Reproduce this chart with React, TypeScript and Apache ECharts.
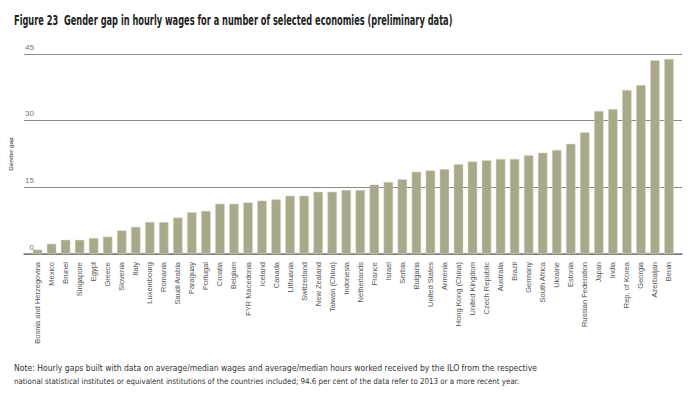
import React, { useEffect, useRef } from "react";
import * as echarts from "echarts";

const categories = [
  "Bosnia and Herzegovina", "Mexico", "Brunei", "Singapore", "Egypt", "Greece", "Slovenia", "Italy",
  "Luxembourg", "Romania", "Saudi Arabia", "Paraguay", "Portugal", "Croatia", "Belgium", "FYR Macedonia",
  "Iceland", "Canada", "Lithuania", "Switzerland", "New Zealand", "Taiwan (China)", "Indonesia", "Netherlands",
  "France", "Israel", "Serbia", "Bulgaria", "United States", "Armenia", "Hong Kong (China)", "United Kingdom",
  "Czech Republic", "Australia", "Brazil", "Germany", "South Africa", "Ukraine", "Estonia", "Russian Federation",
  "Japan", "India", "Rep. of Korea", "Georgia", "Azerbaijan", "Benin",
];

const gapValues = [
  1.0, 2.3, 3.2, 3.2, 3.6, 3.9, 5.3, 6.1,
  7.2, 7.2, 8.2, 9.4, 9.7, 11.3, 11.3, 11.6,
  12.0, 12.3, 13.1, 13.1, 14.0, 14.0, 14.4, 14.4,
  15.6, 16.2, 16.8, 18.5, 18.8, 19.1, 20.2, 20.8,
  21.1, 21.4, 21.4, 22.2, 22.8, 23.4, 24.8, 27.4,
  32.2, 32.6, 36.9, 38.0, 43.6, 43.9,
];

const yMin = 0;
const yMax = 45;
const yStep = 15;

const titleText = "Figure 23  Gender gap in hourly wages for a number of selected economies (preliminary data)";
const noteLines = [
  "Note: Hourly gaps built with data on average/median wages and average/median hours worked received by the ILO from the respective",
  "national statistical institutes or equivalent institutions of the countries included; 94.6 per cent of the data refer to 2013 or a more recent year.",
];

export default function App() {
  const ref = useRef<HTMLDivElement>(null);
  useEffect(() => {
    if (!ref.current) return;
    const chart = echarts.init(ref.current, undefined, { renderer: "svg" });
    const sans = "'DejaVu Sans Condensed', 'Liberation Sans', sans-serif";
    chart.setOption({
      animation: false,
      backgroundColor: "#ffffff",
      grid: [
        { left: 16, right: 8, top: 54, bottom: 145 },
        { left: 30.5, right: 14, top: 54, bottom: 145 },
      ],
      xAxis: [
        {
          type: "category",
          gridIndex: 0,
          data: ["", ""],
          axisLine: { show: true, lineStyle: { color: "#7a7a7a", width: 1.5 } },
          axisTick: { show: false },
          axisLabel: { show: false },
        },
        {
          type: "category",
          gridIndex: 1,
          data: categories,
          axisLine: { show: false },
          axisTick: { show: false },
          axisLabel: {
            rotate: 90,
            interval: 0,
            margin: 8,
            fontSize: 7.5,
            color: "#555555",
            fontFamily: "'Liberation Sans', Arial, sans-serif",
          },
        },
      ],
      yAxis: [
        {
          type: "value",
          gridIndex: 0,
          min: yMin,
          max: yMax,
          interval: yStep,
          offset: -10,
          name: "Gender gap",
          nameLocation: "middle",
          nameRotate: 90,
          nameGap: 20,
          nameTextStyle: { fontSize: 6, fontWeight: "bold", color: "#666666", fontFamily: "'Liberation Sans', sans-serif" },
          axisLine: { show: false },
          axisTick: { show: false },
          axisLabel: {
            inside: false,
            align: "right",
            verticalAlign: "bottom",
            margin: 0,
            padding: [0, 0, 3, 0],
            fontSize: 8,
            color: "#777777",
            fontFamily: "'Liberation Sans', sans-serif",
          },
          splitLine: { show: true, lineStyle: { color: "#8a8a8a", width: 1 } },
        },
        {
          type: "value",
          gridIndex: 1,
          min: yMin,
          max: yMax,
          interval: yStep,
          show: false,
          splitLine: { show: false },
        },
      ],
      series: [
        {
          type: "bar",
          xAxisIndex: 1,
          yAxisIndex: 1,
          data: gapValues,
          barWidth: 9.5,
          itemStyle: { color: "#a9a88a", borderColor: "#d8d8c8", borderWidth: 0.5 },
        },
      ],
      graphic: [
        {
          type: "text",
          x: 14,
          y: 13,
          scaleX: 0.655,
          style: {
            text: titleText,
            fontSize: 14,
            fontWeight: "bold",
            fill: "#222222",
            fontFamily: sans,
          },
        },
        {
          type: "text",
          x: 14,
          y: 364,
          scaleX: 1.07,
          style: {
            text: noteLines[0],
            fontSize: 8,
            fill: "#333333",
            fontFamily: sans,
          },
        },
        {
          type: "text",
          x: 14,
          y: 377,
          scaleX: 0.985,
          style: {
            text: noteLines[1],
            fontSize: 8,
            fill: "#333333",
            fontFamily: sans,
          },
        },
      ],
    });
    return () => chart.dispose();
  }, []);
  return (
    <div
      ref={ref}
      style={{ position: "fixed", left: 0, top: 0, width: 690, height: 399, background: "#fff" }}
    />
  );
}
